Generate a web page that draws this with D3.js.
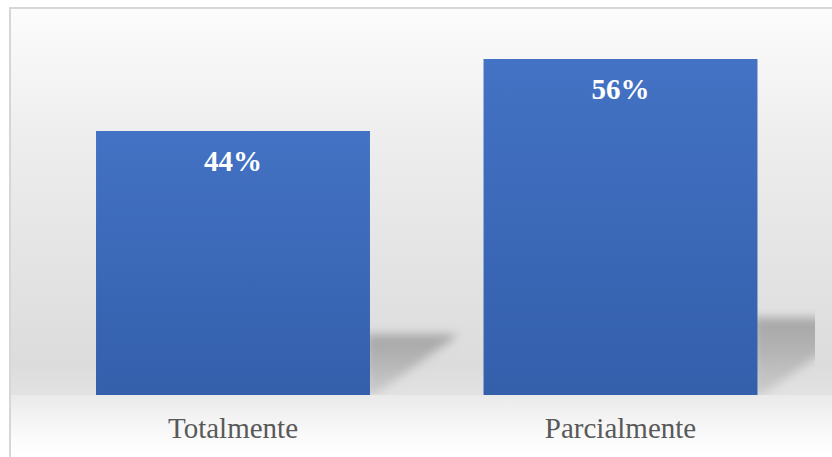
<!DOCTYPE html>
<html>
<head>
<meta charset="utf-8">
<script src="https://cdn.jsdelivr.net/npm/d3@7"></script>
<style>
  html, body { margin: 0; padding: 0; background: #ffffff; }
  svg { display: block; }
</style>
</head>
<body>
<div id="chart"></div>
<script>
// Response categories and their shares (%)
const categories = ["Totalmente", "Parcialmente"];
const values = [44, 56];
const valueLabels = ["44%", "56%"];

const W = 832, H = 457;
const frame = { left: 10, top: 8, right: 815 };
const baseY = 395;

const svg = d3.select("#chart").append("svg")
  .attr("width", W).attr("height", H);

const defs = svg.append("defs");

// back wall: light at the top, grey towards the floor line
const wall = defs.append("linearGradient").attr("id", "wallGrad")
  .attr("x1", 0).attr("y1", 0).attr("x2", 0).attr("y2", 1);
wall.append("stop").attr("offset", 0).attr("stop-color", "#fcfcfc");
wall.append("stop").attr("offset", 0.35).attr("stop-color", "#ededed");
wall.append("stop").attr("offset", 0.92).attr("stop-color", "#dcdcdc");
wall.append("stop").attr("offset", 1).attr("stop-color", "#e2e2e2");

// floor: fades back to white
const floor = defs.append("linearGradient").attr("id", "floorGrad")
  .attr("x1", 0).attr("y1", 0).attr("x2", 0).attr("y2", 1);
floor.append("stop").attr("offset", 0).attr("stop-color", "#eaeaea");
floor.append("stop").attr("offset", 0.7).attr("stop-color", "#fbfbfb");
floor.append("stop").attr("offset", 1).attr("stop-color", "#ffffff");

// bar fill
const barGrad = defs.append("linearGradient").attr("id", "barGrad")
  .attr("x1", 0).attr("y1", 0).attr("x2", 0).attr("y2", 1);
barGrad.append("stop").attr("offset", 0).attr("stop-color", "#4472c4");
barGrad.append("stop").attr("offset", 1).attr("stop-color", "#335fab");

// cast shadow fill
const shGrad = defs.append("linearGradient").attr("id", "shadowGrad")
  .attr("x1", 0).attr("y1", 0).attr("x2", 0).attr("y2", 1);
shGrad.append("stop").attr("offset", 0).attr("stop-color", "#a6a6a6").attr("stop-opacity", 1);
shGrad.append("stop").attr("offset", 0.45).attr("stop-color", "#b2b2b2").attr("stop-opacity", 0.95);
shGrad.append("stop").attr("offset", 1).attr("stop-color", "#c6c6c6").attr("stop-opacity", 0.75);

defs.append("filter").attr("id", "soft")
  .attr("x", "-30%").attr("y", "-30%").attr("width", "160%").attr("height", "160%")
  .append("feGaussianBlur").attr("stdDeviation", 5);

defs.append("clipPath").attr("id", "plotClip")
  .append("rect").attr("x", frame.left).attr("y", frame.top)
  .attr("width", frame.right - frame.left).attr("height", baseY - frame.top);

// background
svg.append("rect").attr("x", frame.left).attr("y", frame.top)
  .attr("width", W - frame.left).attr("height", baseY - frame.top)
  .attr("fill", "url(#wallGrad)");
svg.append("rect").attr("x", frame.left).attr("y", baseY)
  .attr("width", W - frame.left).attr("height", H - baseY)
  .attr("fill", "url(#floorGrad)");

// outer frame (top and left edges visible)
svg.append("path")
  .attr("d", `M${frame.left},${H} V${frame.top} H${W}`)
  .attr("fill", "none").attr("stroke", "#d6d6d6").attr("stroke-width", 2);

// scales
const x = d3.scaleBand()
  .domain(categories)
  .range([39.25, 814.25])
  .paddingInner(0.293)
  .paddingOuter(0.1465);

const y = d3.scaleLinear().domain([0, 60]).range([baseY, 35]);

const data = categories.map((c, i) => ({ cat: c, v: values[i], label: valueLabels[i] }));

// cast shadows behind each bar
const shadowG = svg.append("g").attr("clip-path", "url(#plotClip)")
  .append("g").attr("filter", "url(#soft)");
shadowG.selectAll("path").data(data).join("path")
  .attr("d", d => {
    const xr = x(d.cat) + x.bandwidth();
    const h = (baseY - y(d.v)) * 0.23;
    const w = h * 1.45;
    return `M${xr - 4},${baseY} L${xr - 4},${baseY - h} L${xr + w},${baseY - h} ` +
           `L${xr + w * 0.92},${baseY - h * 0.9} L${xr + 4},${baseY} Z`;
  })
  .attr("fill", "url(#shadowGrad)");

// bars
svg.append("g").selectAll("rect").data(data).join("rect")
  .attr("x", d => x(d.cat))
  .attr("y", d => y(d.v))
  .attr("width", x.bandwidth())
  .attr("height", d => baseY - y(d.v))
  .attr("fill", "url(#barGrad)");

// value labels inside the bars
svg.append("g").selectAll("text").data(data).join("text")
  .attr("x", d => x(d.cat) + x.bandwidth() / 2)
  .attr("y", d => y(d.v) + 40)
  .attr("text-anchor", "middle")
  .attr("font-family", "'Liberation Serif', 'Times New Roman', serif")
  .attr("font-weight", "bold")
  .attr("font-size", 29)
  .attr("fill", "#ffffff")
  .text(d => d.label);

// category axis labels
const xAxis = d3.axisBottom(x).tickSize(0).tickPadding(0);
const axisG = svg.append("g")
  .attr("transform", `translate(0,${baseY})`)
  .call(xAxis);
axisG.select(".domain").remove();
axisG.selectAll("text")
  .attr("y", 43)
  .attr("dy", 0)
  .attr("font-family", "'Liberation Serif', 'Times New Roman', serif")
  .attr("font-size", 29)
  .attr("fill", "#595959");
</script>
</body>
</html>
